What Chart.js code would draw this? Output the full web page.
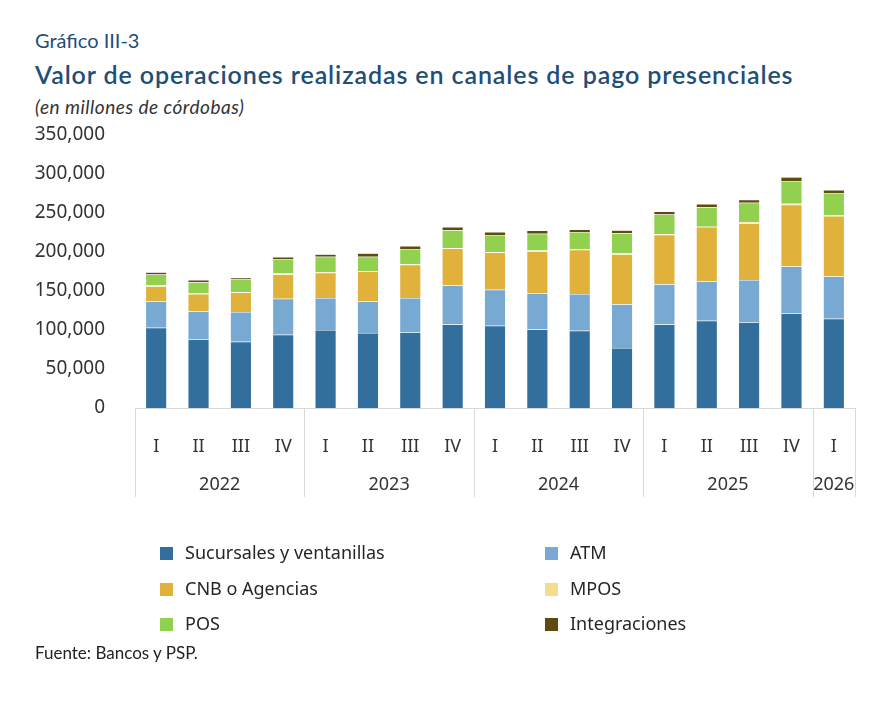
<!DOCTYPE html>
<html>
<head>
<meta charset="utf-8">
<script src="https://cdn.jsdelivr.net/npm/chart.js@4"></script>
<style>
  body { margin: 0; background: #fff; width: 870px; height: 706px; position: relative; overflow: hidden; font-family: "Noto Sans", sans-serif; }
  #c { position: absolute; left: 0; top: 0; }
  .t { position: absolute; left: 35px; color: #1f4e79; font-family: Lato, sans-serif; white-space: nowrap; }
  .leg { position: absolute; font-size: 18px; color: #262626; white-space: nowrap; }
  .leg span { display: inline-block; width: 13px; height: 13px; margin-right: 12px; vertical-align: -1px; }
</style>
</head>
<body>
<div class="t" style="top:28px;font-size:20px;">Gráfico III-3</div>
<div class="t" style="top:59px;font-size:25px;font-weight:600;letter-spacing:0.9px;">Valor de operaciones realizadas en canales de pago presenciales</div>
<div class="t" style="top:95px;font-size:19px;font-style:italic;color:#333;letter-spacing:0.5px;">(en millones de córdobas)</div>
<canvas id="c" width="870" height="706"></canvas>
<div id="legend"></div>
<div class="t" style="top:642px;font-size:17px;color:#222;left:35px;">Fuente: Bancos y PSP.</div>
<script>
const quarters = ["I","II","III","IV","I","II","III","IV","I","II","III","IV","I","II","III","IV","I"];
const years = ["2022","2023","2024","2025","2026"];
const yearSizes = [4, 4, 4, 4, 1];

const sucursales = [103000, 88000, 85000, 94000, 100000, 96000, 97000, 107000, 105500, 100500, 99000, 77000, 107000, 112000, 110000, 121500, 114500];
const atm        = [34000, 36000, 38000, 46000, 41000, 41000, 44000, 50000, 46000, 46500, 47000, 56000, 51500, 50500, 54000, 60000, 54000];
const cnb        = [19000, 22000, 25000, 31000, 32500, 38000, 42500, 47500, 48000, 54000, 57000, 64000, 63500, 69500, 73000, 79000, 77500];
const mpos       = [1500, 700, 500, 1500, 1000, 500, 700, 500, 500, 1000, 1000, 1000, 1000, 500, 1500, 1500, 1500];
const pos        = [13500, 14500, 17000, 18500, 19500, 18500, 19500, 23000, 21000, 21500, 21500, 26000, 25000, 25000, 24500, 29000, 27500];
const integ      = [3000, 3000, 1500, 2500, 3000, 4500, 4000, 4000, 4500, 4000, 3500, 4000, 4000, 4000, 4000, 5000, 4500];

const series = [
  { label: "Sucursales y ventanillas", data: sucursales, color: "#336f9c" },
  { label: "ATM", data: atm, color: "#77a9d3" },
  { label: "CNB o Agencias", data: cnb, color: "#e0b23c" },
  { label: "MPOS", data: mpos, color: "#f5dc8f" },
  { label: "POS", data: pos, color: "#92d050" },
  { label: "Integraciones", data: integ, color: "#614a10" }
];

// legend, two columns
const legendPos = [[160, 540], [545, 540], [160, 576], [545, 576], [160, 611], [545, 611]];
const legend = document.getElementById("legend");
series.forEach(function (s, k) {
  const d = document.createElement("div");
  d.className = "leg";
  d.style.left = legendPos[k][0] + "px";
  d.style.top = legendPos[k][1] + "px";
  d.innerHTML = '<span style="background:' + s.color + '"></span>' + s.label;
  legend.appendChild(d);
});

const yearAxis = {
  id: "yearAxis",
  afterDraw(chart) {
    const ctx = chart.ctx;
    const x = chart.scales.x;
    const area = chart.chartArea;
    const half = (x.getPixelForValue(1) - x.getPixelForValue(0)) / 2;
    ctx.save();
    ctx.strokeStyle = "#d9d9d9";
    ctx.lineWidth = 1;
    ctx.fillStyle = "#333";
    ctx.font = "18px 'Noto Sans', sans-serif";
    ctx.textAlign = "center";
    ctx.textBaseline = "middle";
    let start = 0;
    const edges = [area.left];
    yearSizes.forEach(function (n, g) {
      const l = x.getPixelForValue(start) - half;
      const r = x.getPixelForValue(start + n - 1) + half;
      ctx.fillText(years[g], (l + r) / 2, 485);
      edges.push(r);
      start += n;
    });
    edges.forEach(function (e) {
      ctx.beginPath();
      ctx.moveTo(Math.round(e) + 0.5, area.bottom);
      ctx.lineTo(Math.round(e) + 0.5, 497);
      ctx.stroke();
    });
    ctx.restore();
  }
};

Chart.defaults.font.family = "'Noto Sans', sans-serif";

new Chart(document.getElementById("c"), {
  type: "bar",
  data: {
    labels: quarters,
    datasets: series.map(function (s) {
      return {
        label: s.label,
        data: s.data,
        backgroundColor: s.color,
        borderColor: "rgba(255,255,255,0.5)",
        borderWidth: 0.5,
        barPercentage: 0.5,
        categoryPercentage: 1
      };
    })
  },
  options: {
    responsive: false,
    animation: false,
    layout: { padding: { top: 135, right: 15, left: 0, bottom: 0 } },
    plugins: { legend: { display: false }, tooltip: { enabled: false } },
    scales: {
      x: {
        stacked: true,
        grid: { display: false },
        border: { display: true, color: "#d9d9d9" },
        ticks: { color: "#333", font: { size: 18 }, padding: 20, maxRotation: 0 },
        afterFit(s) { s.height = 298; }
      },
      y: {
        stacked: true,
        min: 0,
        max: 350000,
        grid: { display: false },
        border: { display: false },
        ticks: {
          stepSize: 50000,
          color: "#333",
          padding: 22,
          font: { size: 19 },
          callback: function (v) { return v.toLocaleString("en-US"); }
        },
        afterFit(s) { s.width = 135; }
      }
    }
  },
  plugins: [yearAxis]
});
</script>
</body>
</html>
